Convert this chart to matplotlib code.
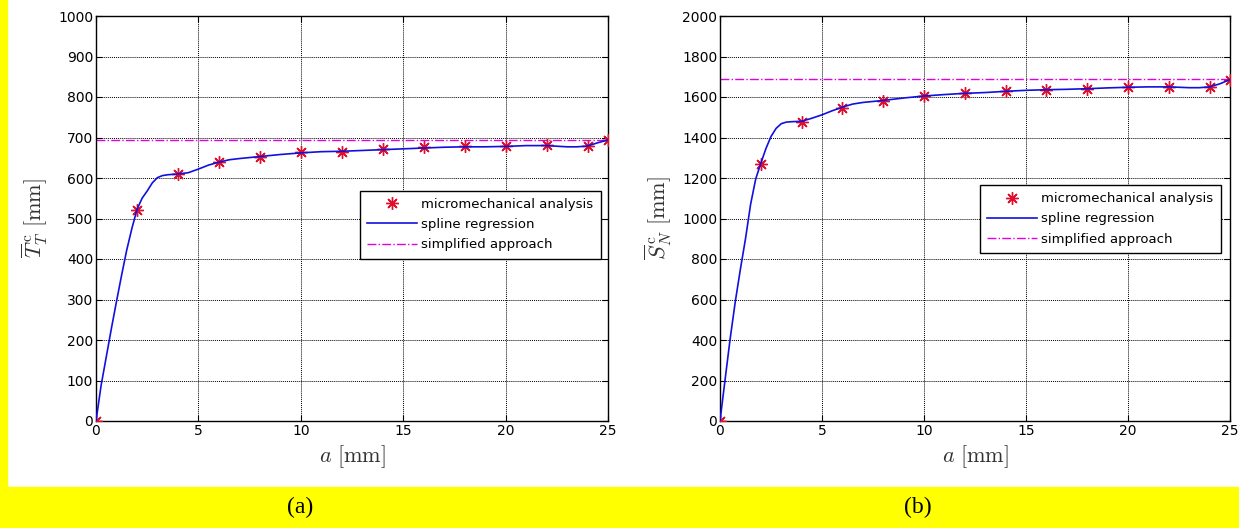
import numpy as np
import matplotlib
matplotlib.use("Agg")
import matplotlib.pyplot as plt
from matplotlib.patches import Rectangle

plt.rcParams['mathtext.fontset'] = 'cm'
plt.rcParams['font.family'] = ['DejaVu Sans']

# micromechanical analysis points
a_pts = [0, 2, 4, 6, 8, 10, 12, 14, 16, 18, 20, 22, 24, 25]
T_pts = [0, 522, 610, 639, 653, 663, 665, 671, 676, 678, 678, 681, 680, 694]
S_pts = [0, 1269, 1478, 1547, 1581, 1605, 1618, 1628, 1635, 1640, 1648, 1650, 1650, 1685]

# spline regression curves
a_spl = [0, 0.25, 0.5, 0.75, 1.0, 1.25, 1.5, 1.75, 2.0, 2.25, 2.5, 2.75, 3.0, 3.25,
         3.5, 3.75, 4.0, 4.5, 5.0, 5.5, 6.0, 6.5, 7.0, 8.0, 9.0, 10.0, 11.0, 12.0,
         13.0, 14.0, 15.0, 16.0, 17.0, 18.0, 19.0, 20.0, 21.0, 22.0, 23.0, 23.5,
         24.0, 24.5, 25.0]
T_spl = [0, 88, 158, 228, 295, 360, 422, 475, 522, 550, 568, 588, 601, 606,
         608, 609, 610, 613, 622, 632, 639, 645, 648, 653, 658, 662, 665, 666,
         668, 670, 672, 674, 676, 677, 677, 678, 680, 680, 677, 677,
         679, 687, 694]
S_spl = [0, 205, 408, 590, 750, 900, 1070, 1195, 1272, 1345, 1405, 1445, 1468, 1476,
         1478, 1479, 1480, 1495, 1512, 1532, 1550, 1565, 1573, 1583, 1595, 1605, 1612, 1618,
         1622, 1628, 1633, 1636, 1638, 1641, 1645, 1648, 1650, 1650, 1646, 1646,
         1650, 1665, 1686]

# simplified approach levels
T_simple = 693
S_simple = 1690

T_yticks = list(range(0, 1001, 100))
S_yticks = list(range(0, 2001, 200))
x_ticks = [0, 5, 10, 15, 20, 25]

W, H = 1239, 528
fig = plt.figure(figsize=(W / 100, H / 100), dpi=100)

# yellow page background bits
fig.patches.append(Rectangle((0, 0), 1, 41 / H, transform=fig.transFigure,
                             color='#ffff00', zorder=0))
fig.patches.append(Rectangle((0, 0), 7 / W, 1, transform=fig.transFigure,
                             color='#ffff00', zorder=0))

ax1 = fig.add_axes([96 / W, 107 / H, 512 / W, 405 / H])
ax2 = fig.add_axes([720 / W, 107 / H, 510 / W, 405 / H])

star = (8, 2, 0)


def draw(ax, y_pts, y_spl, y_simple, yticks, ylabel, leg_anchor):
    ax.plot(a_pts, y_pts, linestyle='none', marker=star, markersize=9,
            markeredgewidth=1.0, color='#e0102c', label='micromechanical analysis',
            zorder=3)
    ax.plot(a_spl, y_spl, color='#1010e0', lw=1.2, label='spline regression',
            zorder=4)
    ax.axhline(y_simple, color='#e000e0', lw=1.0, linestyle='-.',
               label='simplified approach', zorder=2)
    ax.set_xlim(0, 25)
    ax.set_ylim(yticks[0], yticks[-1])
    ax.set_xticks(x_ticks)
    ax.set_yticks(yticks)
    ax.grid(True, color='k', linestyle=(0, (1, 1)), lw=0.7)
    ax.tick_params(direction='in', top=True, right=True, length=4,
                   labelsize=10, pad=2)
    for s in ax.spines.values():
        s.set_linewidth(1.0)
    ax.set_xlabel(r'$a\ [\mathrm{mm}]$', fontsize=16, color='#333333', labelpad=4)
    ax.set_ylabel(ylabel, fontsize=16, color='#333333', labelpad=6)
    leg = ax.legend(loc='upper right', bbox_to_anchor=leg_anchor, fontsize=9.5,
                    fancybox=False, framealpha=1, edgecolor='k',
                    borderpad=0.55, labelspacing=0.55, handlelength=3.8,
                    handletextpad=0.3, borderaxespad=0)
    leg.get_frame().set_linewidth(1.0)


draw(ax1, T_pts, T_spl, T_simple, T_yticks,
     r'$\overline{T}_T^{\,\mathrm{c}}\ [\mathrm{mm}]$', (0.986, 0.569))
draw(ax2, S_pts, S_spl, S_simple, S_yticks,
     r'$\overline{S}_N^{\,\mathrm{c}}\ [\mathrm{mm}]$', (0.982, 0.583))

fig.text(300 / W, 1 - 507 / H, '(a)', ha='center', va='center',
         fontsize=17, family='Liberation Serif')
fig.text(918 / W, 1 - 507 / H, '(b)', ha='center', va='center',
         fontsize=17, family='Liberation Serif')

fig.savefig('out.png', dpi=100)
